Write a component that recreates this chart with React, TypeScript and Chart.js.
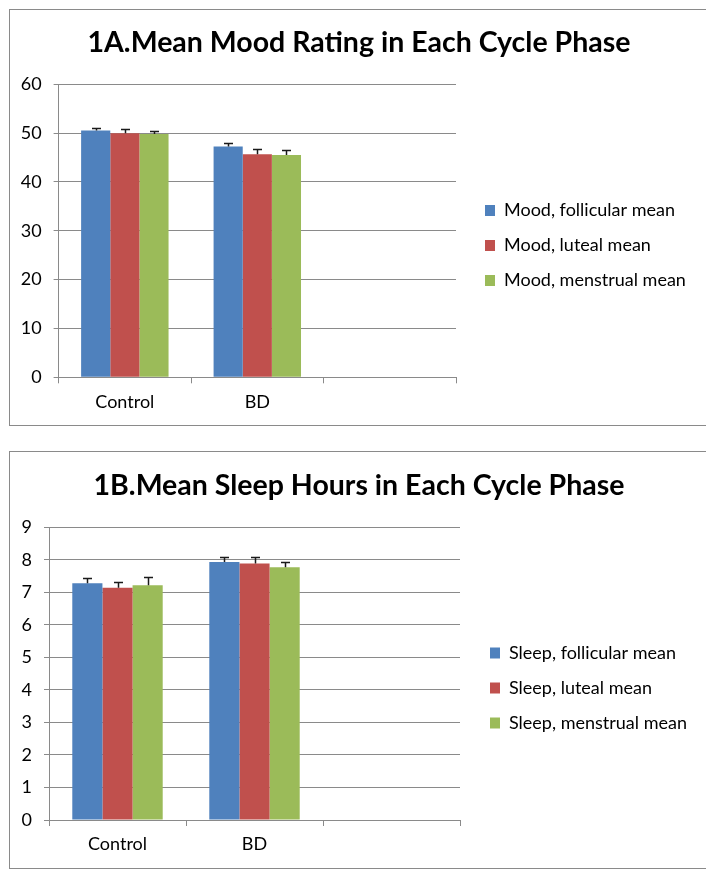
import React, { useEffect, useRef } from "react";
import { Chart, registerables } from "chart.js";

Chart.register(...registerables);

const categories = ["Control", "BD", ""];

const moodLabels = ["Mood, follicular mean", "Mood, luteal mean", "Mood, menstrual mean"];
const moodFollicular = [50.55, 47.25, null];
const moodLuteal = [50.0, 45.7, null];
const moodMenstrual = [49.8, 45.5, null];
const moodFollicularErr = [0.6, 0.8, null];
const moodLutealErr = [0.75, 0.95, null];
const moodMenstrualErr = [0.7, 0.95, null];
const moodTicks = { min: 0, max: 60, step: 10 };

const sleepLabels = ["Sleep, follicular mean", "Sleep, luteal mean", "Sleep, menstrual mean"];
const sleepFollicular = [7.28, 7.93, null];
const sleepLuteal = [7.14, 7.89, null];
const sleepMenstrual = [7.22, 7.77, null];
const sleepFollicularErr = [0.17, 0.15, null];
const sleepLutealErr = [0.18, 0.2, null];
const sleepMenstrualErr = [0.25, 0.15, null];
const sleepTicks = { min: 0, max: 9, step: 1 };

const seriesColors = ["#4F81BD", "#C0504D", "#9BBB59"];
const GRID = "#8a8a8a";
const FONT = "Lato";

const errorBarPlugin = {
  id: "errorBars",
  afterDatasetsDraw(chart: any, _args: any, opts: any) {
    const ctx = chart.ctx;
    const yScale = chart.scales.y;
    chart.data.datasets.forEach((ds: any, i: number) => {
      const meta = chart.getDatasetMeta(i);
      const errs = opts.errors[i] || [];
      meta.data.forEach((bar: any, j: number) => {
        const v = ds.data[j];
        const e = errs[j];
        if (v == null || e == null) return;
        const x = Math.round(bar.x) + 0.5;
        const y0 = yScale.getPixelForValue(v);
        const y1 = Math.round(yScale.getPixelForValue(v + e)) + 0.5;
        ctx.save();
        ctx.strokeStyle = "#1a1a1a";
        ctx.lineWidth = 1.5;
        ctx.beginPath();
        ctx.moveTo(x, y0);
        ctx.lineTo(x, y1);
        ctx.moveTo(x - 4.5, y1);
        ctx.lineTo(x + 4.5, y1);
        ctx.stroke();
        ctx.restore();
      });
    });
  },
};

const legendWidthPlugin = {
  id: "legendWidth",
  afterInit(chart: any, _args: any, opts: any) {
    const lg = chart.legend;
    if (!lg) return;
    const orig = lg.fit.bind(lg);
    lg.fit = () => {
      orig();
      lg.width = opts.width;
    };
  },
};

type PanelProps = {
  title: string;
  labels: string[];
  series: (number | null)[][];
  errors: (number | null)[][];
  ticks: { min: number; max: number; step: number };
  height: number;
  yWidth: number;
  xHeight: number;
  titlePadTop: number;
  titlePadBottom: number;
  gap: number;
  legendWidth: number;
  legendShift: number;
  marginTop: number;
};

function Panel(p: PanelProps) {
  const ref = useRef<HTMLCanvasElement>(null);
  useEffect(() => {
    if (!ref.current) return;
    const chart = new Chart(ref.current, {
      type: "bar",
      data: {
        labels: categories,
        datasets: p.series.map((d, i) => ({
          label: p.labels[i],
          data: d as any,
          backgroundColor: seriesColors[i],
          borderWidth: 0,
          categoryPercentage: 0.66,
          barPercentage: 1.0,
        })),
      },
      options: {
        animation: false,
        responsive: false,
        maintainAspectRatio: false,
        layout: { padding: 0 },
        scales: {
          x: {
            grid: {
              display: true,
              drawOnChartArea: false,
              drawTicks: true,
              tickLength: 6,
              color: GRID,
              offset: true,
            },
            border: { display: true, color: GRID, width: 1 },
            ticks: { color: "#000", font: { family: FONT, size: 18 }, padding: 7.6 },
            afterFit: (s: any) => {
              s.height = p.xHeight;
            },
          },
          y: {
            min: p.ticks.min,
            max: p.ticks.max,
            grid: { color: GRID, tickLength: 5, drawTicks: true },
            border: { display: true, color: GRID, width: 1 },
            ticks: {
              stepSize: p.ticks.step,
              color: "#000",
              font: { family: FONT, size: 18 },
              padding: 12,
            },
            afterFit: (s: any) => {
              s.width = p.yWidth;
            },
          },
          yR: {
            type: "linear",
            position: "right",
            display: true,
            grid: { display: false, drawTicks: false },
            border: { display: false },
            ticks: { display: false },
            afterFit: (s: any) => {
              s.width = p.gap;
            },
          },
        } as any,
        plugins: {
          title: {
            display: true,
            text: p.title,
            color: "#000",
            font: { family: FONT, size: 28.5, weight: "bold" },
            padding: { top: p.titlePadTop, bottom: p.titlePadBottom },
          },
          legend: {
            display: true,
            position: "right",
            align: "center",
            title: { display: true, text: "", font: { size: 10 }, padding: p.legendShift },
            labels: {
              boxWidth: 10,
              boxHeight: 11,
              padding: 17,
              color: "#000",
              font: { family: FONT, size: 18 },
            },
          },
          tooltip: { enabled: false },
          errorBars: { errors: p.errors },
          legendWidth: { width: p.legendWidth },
        } as any,
      },
      plugins: [errorBarPlugin as any, legendWidthPlugin as any],
    });
    return () => chart.destroy();
  }, []);
  return (
    <div
      style={{
        width: 700,
        height: p.height + 2,
        boxSizing: "border-box",
        border: `1px solid ${GRID}`,
        marginTop: p.marginTop,
        background: "#fff",
      }}
    >
      <canvas ref={ref} width={698} height={p.height} style={{ display: "block", width: 698, height: p.height }} />
    </div>
  );
}

export default function App() {
  return (
    <div style={{ paddingTop: 1, paddingLeft: 1 }}>
      <Panel
        title="1A.Mean Mood Rating in Each Cycle Phase"
        labels={moodLabels}
        series={[moodFollicular, moodLuteal, moodMenstrual]}
        errors={[moodFollicularErr, moodLutealErr, moodMenstrualErr]}
        ticks={moodTicks}
        height={415}
        yWidth={48.6}
        xHeight={47.7}
        titlePadTop={15.9}
        titlePadBottom={24.2}
        gap={12}
        legendWidth={240}
        legendShift={22}
        marginTop={0}
      />
      <Panel
        title="1B.Mean Sleep Hours in Each Cycle Phase"
        labels={sleepLabels}
        series={[sleepFollicular, sleepLuteal, sleepMenstrual]}
        errors={[sleepFollicularErr, sleepLutealErr, sleepMenstrualErr]}
        ticks={sleepTicks}
        height={416}
        yWidth={39}
        xHeight={48}
        titlePadTop={16.9}
        titlePadBottom={24.2}
        gap={13}
        legendWidth={235}
        legendShift={22}
        marginTop={25}
      />
    </div>
  );
}
